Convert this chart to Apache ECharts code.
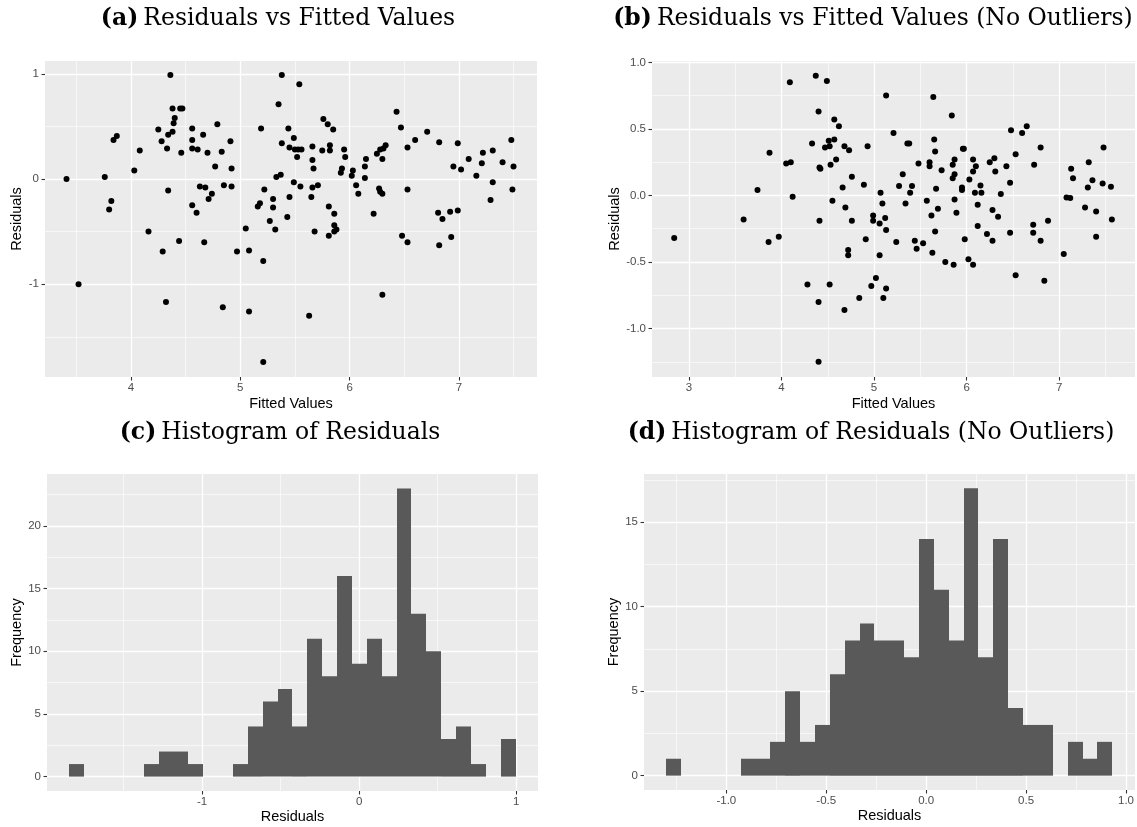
<!DOCTYPE html>
<html><head><meta charset="utf-8">
<script src="https://cdn.jsdelivr.net/npm/echarts@6/dist/echarts.min.js"></script>
<style>html,body{margin:0;padding:0;background:#fff}#c{width:1137px;height:827px}</style>
</head><body><div id="c"></div>
<script>
// ---------- Panel (a): residuals vs fitted ----------
const fittedA = [3.41,3.52,3.76,3.80,3.82,3.84,3.87,4.03,4.08,4.16,4.25,4.28,4.29,4.32,4.33,4.34,4.34,4.36,4.38,4.38,4.39,4.40,4.44,4.45,4.47,4.46,4.56,4.56,4.56,4.56,4.60,4.61,4.63,
4.66,4.68,4.67,4.70,4.71,4.74,4.77,4.79,4.83,4.84,4.85,4.91,4.92,4.92,4.97,5.05,5.08,5.08,5.16,5.18,5.19,5.21,5.21,5.22,5.27,5.30,5.30,5.32,5.33,5.37,5.35,5.38,5.38,5.43,5.44,5.45,5.45,5.49,5.49,5.50,5.52,5.54,5.53,5.56,5.55,5.63,5.65,5.66,5.66,5.66,5.67,5.68,5.71,5.75,5.76,5.80,5.81,5.81,5.82,5.82,5.85,5.86,5.86,5.86,5.88,5.92,5.93,5.95,5.96,6.02,6.03,6.06,6.08,6.14,6.15,6.14,
6.22,6.25,6.27,6.28,6.30,6.28,6.30,6.31,6.33,6.30,6.43,6.47,6.48,6.53,6.53,6.53,6.60,6.71,6.82,6.81,6.82,6.85,6.92,6.93,6.95,6.99,6.99,7.02,7.09,7.16,7.21,7.22,7.29,7.31,7.31,7.40,7.48,7.49,7.50];
const residA = [0.00,-1.00,0.02,-0.29,-0.21,0.37,0.41,0.08,0.27,-0.50,0.47,0.36,-0.69,-1.17,0.29,0.42,-0.11,0.99,0.67,0.45,0.53,0.58,-0.59,0.67,0.67,0.25,0.48,0.37,0.29,-0.25,-0.32,0.28,-0.07,
0.42,-0.08,-0.60,0.25,-0.19,-0.14,0.12,0.52,0.26,-1.22,-0.06,0.36,0.10,-0.07,-0.69,-0.47,-0.68,-1.26,-0.26,-0.23,0.48,-0.78,-1.74,-0.10,-0.40,-0.19,-0.27,-0.48,0.02,0.04,0.71,0.99,0.34,-0.36,0.48,0.30,-0.17,0.39,-0.03,0.28,0.21,0.90,0.28,0.28,-0.07,-1.30,-0.17,0.31,0.18,-0.08,0.10,-0.50,-0.06,0.27,0.57,0.52,-0.26,-0.54,0.32,0.27,0.47,-0.44,-0.33,-0.50,-0.48,0.06,0.10,0.28,0.21,0.03,0.08,-0.06,-0.14,0.12,0.19,0.01,
-0.33,0.24,-0.09,-0.12,-0.14,0.28,0.19,0.29,0.32,-1.10,0.64,0.49,-0.54,-0.60,0.30,-0.10,0.37,0.45,0.35,-0.32,-0.63,-0.38,-0.31,-0.55,0.12,0.34,-0.30,0.09,0.19,0.03,0.15,0.25,-0.20,0.27,-0.03,0.16,0.37,-0.10,0.12];

// ---------- Panel (b): residuals vs fitted, no outliers ----------
const fittedB = [2.84,3.59,3.74,3.86,3.87,3.97,4.05,4.09,4.10,4.12,4.28,4.33,4.37,4.40,4.40,4.40,4.41,4.42,4.41,4.47,4.49,4.51,4.52,4.52,4.53,4.55,4.57,4.57,4.59,4.62,4.66,4.68,4.68,4.69,4.72,4.72,4.73,4.76,4.76,4.84,4.89,4.91,4.93,4.97,4.99,4.99,5.02,5.06,5.06,5.07,5.09,5.10,5.12,5.13,5.13,5.13,5.21,5.24,5.27,5.31,5.34,5.36,5.38,5.39,5.41,5.44,5.46,5.48,5.53,5.57,5.60,5.60,5.62,5.63,5.64,5.65,5.66,5.66,5.67,5.69,5.73,5.77,5.84,5.85,5.85,5.86,5.87,5.87,5.87,5.89,5.95,5.95,5.96,5.97,5.98,6.02,6.03,6.07,6.07,6.07,6.09,6.10,6.12,6.12,6.15,6.16,6.22,6.25,6.28,6.28,6.30,6.31,6.34,6.37,6.43,6.47,6.47,6.48,6.53,6.53,6.60,6.65,6.72,6.72,6.73,6.80,6.80,6.84,6.88,7.05,7.08,7.12,7.13,7.15,7.28,7.31,7.32,7.36,7.40,7.40,7.47,7.48,7.56,7.57];
const residB = [-0.32,-0.18,0.04,-0.35,0.32,-0.31,0.24,0.85,0.25,-0.01,-0.67,0.39,0.90,0.63,-0.80,-1.25,0.21,0.20,-0.19,0.36,0.86,0.41,0.37,-0.67,0.23,-0.04,0.57,0.42,0.27,0.52,0.06,-0.86,0.37,-0.09,-0.41,-0.45,0.34,0.14,-0.19,-0.77,0.08,-0.33,0.37,-0.68,-0.15,-0.19,-0.62,-0.45,-0.21,0.02,-0.06,-0.77,-0.17,-0.70,-0.26,0.75,0.47,-0.35,0.07,0.16,-0.06,0.39,0.39,0.02,0.07,-0.34,-0.40,0.24,-0.36,-0.04,0.25,0.22,-0.15,-0.43,0.74,0.42,0.33,-0.27,0.05,-0.10,0.19,-0.50,0.60,0.23,0.13,-0.52,-0.03,0.27,0.16,-0.13,0.06,0.04,0.35,0.35,-0.33,-0.48,0.12,0.27,0.18,-0.52,0.02,0.22,-0.23,-0.07,0.075,0.02,-0.29,0.25,-0.11,-0.34,0.28,0.18,-0.16,0.01,0.22,-0.28,0.095,0.49,-0.60,0.31,0.47,0.52,-0.22,-0.28,0.23,-0.34,0.36,-0.64,-0.19,-0.44,-0.015,-0.02,0.20,0.13,-0.09,0.06,0.25,0.115,-0.12,-0.31,0.09,0.36,0.065,-0.18];

// ---------- Panel (c) & (d): histograms (30 bins each) ----------
const binStartC = -1.845, binWidthC = 0.0947;
const countsC = [1,0,0,0,0,1,2,2,1,0,0,1,4,6,7,4,11,8,16,9,11,8,23,13,10,3,4,1,0,3];
const binStartD = -1.300, binWidthD = 0.07437;
const countsD = [1,0,0,0,0,1,1,2,5,2,3,6,8,9,8,8,7,14,11,8,17,7,14,4,3,3,0,2,1,2];

// ---------- tick values ----------
const xMajorA = [4,5,6,7], xMinorA = [3.5,4.5,5.5,6.5,7.5];
const yMajorA = [-1,0,1], yMinorA = [-1.5,-0.5,0.5];
const xMajorB = [3,4,5,6,7], xMinorB = [3.5,4.5,5.5,6.5,7.5];
const yMajorB = [-1,-0.5,0,0.5,1], yMinorB = [-1.25,-0.75,-0.25,0.25,0.75];
const xMajorC = [-1,0,1], xMinorC = [-1.5,-0.5,0.5];
const yMajorC = [0,5,10,15,20], yMinorC = [2.5,7.5,12.5,17.5,22.5];
const xMajorD = [-1,-0.5,0,0.5,1], xMinorD = [-1.25,-0.75,-0.25,0.25,0.75];
const yMajorD = [0,5,10,15], yMinorD = [2.5,7.5,12.5,17.5];

const titles = [
  {tag:'(a)', text:'Residuals vs Fitted Values', cx:278, top:7},
  {tag:'(b)', text:'Residuals vs Fitted Values (No Outliers)', cx:873, top:7},
  {tag:'(c)', text:'Histogram of Residuals', cx:280, top:421},
  {tag:'(d)', text:'Histogram of Residuals (No Outliers)', cx:871, top:421}
];

const labelStyle = {color:'#4D4D4D', fontSize:11.5, fontFamily:'Liberation Sans'};
const nameStyle = {color:'#000', fontSize:14.5, fontFamily:'Liberation Sans'};

function axes(gridIndex, min, max, major, minor, dec, name, nameGap, margin) {
  return [{
    type:'value', gridIndex, min, max, name, nameLocation:'middle', nameGap,
    nameTextStyle:nameStyle,
    axisLine:{show:false, onZero:false},
    axisTick:{show:true, inside:false, length:3.5, lineStyle:{color:'#333333', width:1.1}, customValues:major},
    axisLabel:Object.assign({customValues:major, margin, formatter:v => Number(v).toFixed(dec)}, labelStyle),
    splitLine:{show:true, lineStyle:{color:'#FFFFFF', width:1.3}}
  },{
    type:'value', gridIndex, min, max,
    axisLine:{show:false, onZero:false},
    axisTick:{show:false, customValues:minor},
    axisLabel:{show:false},
    splitLine:{show:true, lineStyle:{color:'#FFFFFF', width:0.6}}
  }];
}

function pairs(xs, ys){ return xs.map((x,i)=>[x, ys[i]]); }
function bins(start, width, counts){ return counts.map((c,i)=>[start+i*width, start+(i+1)*width, c]); }

function histRender(params, api){
  if (!api.value(2)) return null;
  const p0 = api.coord([api.value(0), api.value(2)]);
  const p1 = api.coord([api.value(1), 0]);
  const x0 = Math.round(p0[0]), x1 = Math.round(p1[0]);
  return {type:'rect', shape:{x:x0, y:p0[1], width:x1-x0, height:p1[1]-p0[1]},
    style:{fill:'#595959'}};
}

const chart = echarts.init(document.getElementById('c'), null, {renderer:'canvas'});
chart.setOption({
  animation:false,
  backgroundColor:'#FFFFFF',
  title: titles.map(t => ({
    text:'{b|'+t.tag+'} {r|'+t.text+'}',
    left:t.cx, top:t.top, textAlign:'center', padding:0,
    textStyle:{rich:{
      b:{fontFamily:'DejaVu Serif', fontWeight:'bold', fontSize:23.5, color:'#000'},
      r:{fontFamily:'DejaVu Serif', fontWeight:'normal', fontSize:23.5, color:'#000'}
    }}
  })),
  grid:[
    {left:45, top:61, width:492, height:316, show:true, backgroundColor:'#EBEBEB', borderWidth:0},
    {left:652, top:61, width:483, height:316, show:true, backgroundColor:'#EBEBEB', borderWidth:0},
    {left:47, top:474, width:491, height:317, show:true, backgroundColor:'#EBEBEB', borderWidth:0},
    {left:644, top:474, width:492, height:316, show:true, backgroundColor:'#EBEBEB', borderWidth:0}
  ],
  xAxis:[].concat(
    axes(0, 3.213, 7.715, xMajorA, xMinorA, 0, 'Fitted Values', 19, 5),
    axes(1, 2.60, 7.82, xMajorB, xMinorB, 0, 'Fitted Values', 19, 5),
    axes(2, -1.987, 1.139, xMajorC, xMinorC, 0, 'Residuals', 18, 5),
    axes(3, -1.412, 1.045, xMajorD, xMinorD, 1, 'Residuals', 18, 5)
  ),
  yAxis:[].concat(
    axes(0, -1.882, 1.122, yMajorA, yMinorA, 0, 'Residuals', 20, 6),
    axes(1, -1.364, 1.010, yMajorB, yMinorB, 1, 'Residuals', 30, 6),
    axes(2, -1.15, 24.15, yMajorC, yMinorC, 0, 'Frequency', 23, 6),
    axes(3, -0.85, 17.85, yMajorD, yMinorD, 0, 'Frequency', 22, 6)
  ),
  series:[
    {type:'scatter', xAxisIndex:0, yAxisIndex:0, data:pairs(fittedA, residA), symbolSize:6, itemStyle:{color:'#000', opacity:1}},
    {type:'scatter', xAxisIndex:2, yAxisIndex:2, data:pairs(fittedB, residB), symbolSize:6, itemStyle:{color:'#000', opacity:1}},
    {type:'custom', xAxisIndex:4, yAxisIndex:4, data:bins(binStartC, binWidthC, countsC), renderItem:histRender, encode:{x:[0,1], y:2}},
    {type:'custom', xAxisIndex:6, yAxisIndex:6, data:bins(binStartD, binWidthD, countsD), renderItem:histRender, encode:{x:[0,1], y:2}}
  ]
});
</script>
</body></html>
